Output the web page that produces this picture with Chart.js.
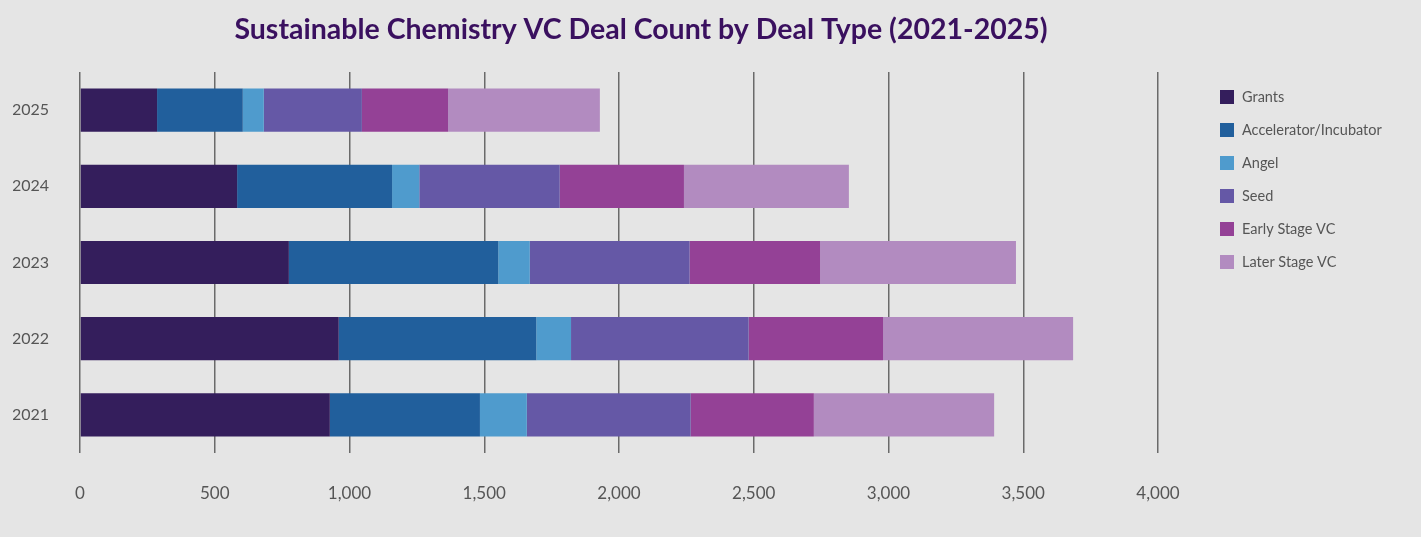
<!DOCTYPE html>
<html lang="en">
  <head>
    <meta charset="utf-8">
    <title>Sustainable Chemistry VC Deal Count</title>
    <script src="https://cdn.jsdelivr.net/npm/chart.js@4/dist/chart.umd.min.js"></script>
    <style>
      body { margin: 0; background: #e5e5e5; }
      #chart { display: block; }
    </style>
  </head>
  <body>
    <canvas id="chart" width="1421" height="537"></canvas>

    <script type="text/javascript">

    // years as shown top to bottom
    var years = ['2025', '2024', '2023', '2022', '2021']

    var grants      = [286, 583, 775, 960, 927]
    var accelerator = [318, 575, 777, 733, 557]
    var angel       = [78, 101, 117, 129, 174]
    var seed        = [364, 521, 593, 659, 608]
    var earlyVC     = [320, 461, 484, 499, 457]
    var laterVC     = [563, 612, 727, 705, 669]

    var seriesNames  = ['Grants', 'Accelerator/Incubator', 'Angel', 'Seed', 'Early Stage VC', 'Later Stage VC']
    var seriesColors = ['#341e5c', '#215f9c', '#4f9bcd', '#6558a6', '#944196', '#b28bc0']

    var xTicks = [0, 500, 1000, 1500, 2000, 2500, 3000, 3500, 4000]

    var titleText = 'Sustainable Chemistry VC Deal Count by Deal Type (2021-2025)'

    var allSeries = [grants, accelerator, angel, seed, earlyVC, laterVC]
    var datasets = allSeries.map(function(vals, i) {
      return {
        label: seriesNames[i],
        data: vals,
        backgroundColor: seriesColors[i],
        borderWidth: 0,
        barPercentage: 0.7,
        categoryPercentage: 0.81
      }
    })

    // background, title and legend on the canvas
    var decorations = {
      id: 'decorations',
      beforeDraw: function(chart) {
        var c = chart.ctx
        c.save()
        c.fillStyle = '#e5e5e5'
        c.fillRect(0, 0, chart.width, chart.height)
        c.restore()
      },
      afterDraw: function(chart) {
        var c = chart.ctx
        c.save()
        c.fillStyle = '#3a105f'
        c.font = 'bold 28.5px Lato'
        c.textAlign = 'center'
        c.textBaseline = 'alphabetic'
        c.fillText(titleText, 641, 39)

        c.font = '14.5px Lato'
        c.textAlign = 'left'
        c.textBaseline = 'middle'
        chart.data.datasets.forEach(function(ds, i) {
          var y = 97 + i * 33
          c.fillStyle = ds.backgroundColor
          c.fillRect(1220, y - 7, 14, 14)
          c.fillStyle = '#555555'
          c.fillText(ds.label, 1242, y)
        })
        c.restore()
      }
    }

    var ctx = document.getElementById('chart').getContext('2d')
    var chart = new Chart(ctx, {
      type: 'bar',
      data: {
        labels: years,
        datasets: datasets
      },
      options: {
        indexAxis: 'y',
        responsive: false,
        animation: false,
        layout: {
          padding: { top: 72, left: 13, right: 263, bottom: 34 }
        },
        plugins: {
          legend: { display: false },
          title: { display: false },
          tooltip: { enabled: false }
        },
        scales: {
          x: {
            stacked: true,
            min: 0,
            max: 4000,
            afterBuildTicks: function(axis) {
              axis.ticks = xTicks.map(function(v) { return { value: v } })
            },
            afterFit: function(axis) { axis.height = 50 },
            grid: {
              color: '#6a6a6a',
              lineWidth: 1.5,
              drawTicks: false
            },
            border: { display: false },
            ticks: {
              padding: 30,
              color: '#555555',
              font: { family: 'Lato', size: 17 },
              callback: function(v) { return v.toLocaleString('en-US') }
            }
          },
          y: {
            stacked: true,
            afterFit: function(axis) { axis.width = 67 },
            grid: { display: false, drawTicks: false },
            border: { display: false },
            ticks: {
              padding: 31,
              color: '#555555',
              font: { family: 'Lato', size: 16 }
            }
          }
        }
      },
      plugins: [decorations]
    })

    </script>
  </body>
</html>
